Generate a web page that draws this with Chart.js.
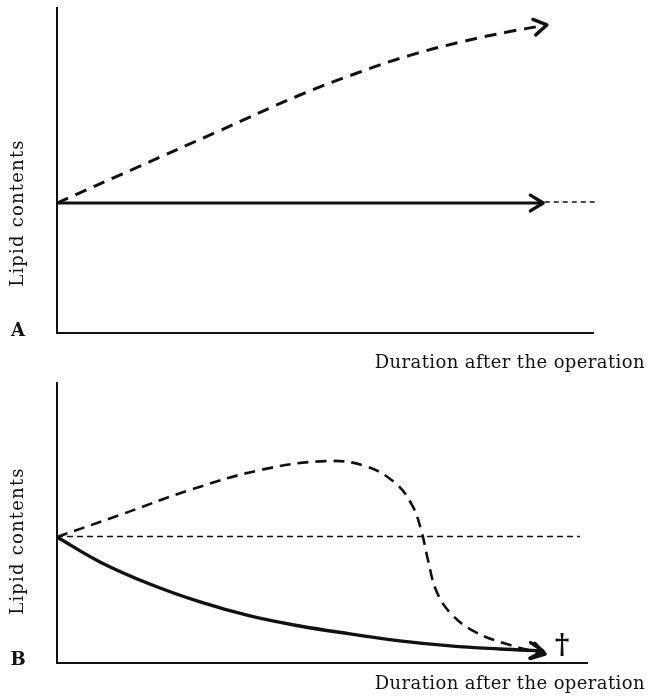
<!DOCTYPE html>
<html lang="en">
<head>
<meta charset="UTF-8" />
<title>Lipid contents after the operation</title>
<script src="https://cdn.jsdelivr.net/npm/chart.js"></script>
<style>
  html, body { margin: 0; padding: 0; background: #fff; }
  .panel { display: block; }
</style>
</head>
<body>
<canvas id="chartA" class="panel" width="651" height="375"></canvas>
<canvas id="chartB" class="panel" width="651" height="324"></canvas>

<script>
  // panel A: duration (x) and lipid level (y), arbitrary units 0-100
  const durA = [0, 15, 30, 45, 56, 66, 76, 84, 91.4];
  const dashedA = [40, 51, 62, 73, 80, 85.5, 89.8, 92.6, 94.8];
  const solidDurA = [0, 90.7];
  const solidA = [40, 40];
  const refDurA = [91, 100.7];
  const refA = [40.3, 40.3];

  // panel B
  const dashedDurB = [0, 11.9, 25.1, 38.3, 50.6, 58.1, 63.8, 67, 68.7, 70, 71.5, 74.2, 78.9, 85.5, 92.1];
  const dashedB = [45, 52.9, 61.8, 68.9, 72.1, 70.4, 64.3, 56.4, 47.5, 36.8, 26.1, 17.9, 11.1, 6.4, 3.2];
  const solidDurB = [0, 8.1, 17.5, 27, 36.4, 45.8, 55.3, 64.7, 74.2, 83.6, 91.7];
  const solidB = [45, 36.1, 28.2, 21.8, 16.8, 13.2, 10.4, 7.9, 6.1, 5.0, 4.3];
  const refDurB = [0, 98.7];
  const refB = [45.2, 45.2];

  const yTitle = 'Lipid contents';
  const xTitle = 'Duration after the operation';
  const INK = '#111';
  const SERIF = '"DejaVu Serif", "Liberation Serif", serif';

  function pts(xs, ys) {
    return xs.map((x, i) => ({ x: x, y: ys[i] }));
  }

  // arrow heads + the hand-set labels
  const sketchPlugin = {
    id: 'sketch',
    afterDatasetsDraw(chart, args, opts) {
      const ctx = chart.ctx;
      const area = chart.chartArea;

      chart.data.datasets.forEach((ds, i) => {
        if (!ds.arrow) return;
        const els = chart.getDatasetMeta(i).data;
        const p = els[els.length - 1];
        const q = els[els.length - 2];
        const a = Math.atan2(p.y - q.y, p.x - q.x);
        const len = 15;
        ctx.save();
        ctx.strokeStyle = INK;
        ctx.lineWidth = 3.4;
        ctx.lineCap = 'round';
        ctx.lineJoin = 'round';
        ctx.setLineDash([]);
        ctx.beginPath();
        ctx.moveTo(p.x - len * Math.cos(a - 0.55), p.y - len * Math.sin(a - 0.55));
        ctx.lineTo(p.x, p.y);
        ctx.lineTo(p.x - len * Math.cos(a + 0.55), p.y - len * Math.sin(a + 0.55));
        ctx.stroke();
        ctx.restore();
      });

      ctx.save();
      ctx.fillStyle = INK;

      // panel letter
      ctx.font = 'bold 18px ' + SERIF;
      ctx.textAlign = 'center';
      ctx.textBaseline = 'middle';
      ctx.fillText(opts.letter, 18, area.bottom + opts.letterDy);

      // y title, rotated
      const yc = chart.scales.y.getPixelForValue(opts.origin) + opts.yTitleDy;
      ctx.save();
      ctx.translate(18, yc);
      ctx.rotate(-Math.PI / 2);
      ctx.font = '18px ' + SERIF;
      ctx.letterSpacing = '1.2px';
      ctx.fillText(yTitle, 0, 0);
      ctx.restore();

      // x title
      ctx.font = '18px ' + SERIF;
      ctx.letterSpacing = '0.4px';
      ctx.textAlign = 'right';
      ctx.textBaseline = 'alphabetic';
      ctx.fillText(xTitle, 645, area.bottom + opts.xTitleDy);

      // dagger after the last solid point
      if (opts.dagger) {
        const els = chart.getDatasetMeta(opts.dagger).data;
        const p = els[els.length - 1];
        ctx.letterSpacing = '0px';
        ctx.font = 'bold 28px ' + SERIF;
        ctx.textAlign = 'center';
        ctx.textBaseline = 'middle';
        ctx.fillText('\u2020', p.x + 19, p.y - 4);
      }
      ctx.restore();
    }
  };

  function axes(xMax) {
    const common = {
      type: 'linear',
      display: true,
      grid: { display: false, drawTicks: false },
      ticks: { display: false },
      border: { display: true, color: INK, width: 2 }
    };
    return {
      x: { ...common, min: 0, max: xMax },
      y: { ...common, min: 0, max: 100 }
    };
  }

  const lineBase = {
    borderColor: INK,
    pointRadius: 0,
    fill: false,
    clip: false
  };

  new Chart(document.getElementById('chartA').getContext('2d'), {
    type: 'line',
    data: {
      datasets: [
        { ...lineBase, data: pts(durA, dashedA), borderWidth: 3, borderDash: [12, 8], tension: 0.4, arrow: true },
        { ...lineBase, data: pts(solidDurA, solidA), borderWidth: 3.2, arrow: true },
        { ...lineBase, data: pts(refDurA, refA), borderWidth: 1.5, borderDash: [5, 4] }
      ]
    },
    options: {
      responsive: false,
      animation: false,
      events: [],
      layout: { padding: { left: 57, right: 58, top: 8, bottom: 42 } },
      scales: axes(100),
      plugins: {
        legend: { display: false },
        tooltip: { enabled: false },
        sketch: { letter: 'A', letterDy: -2, origin: 40, yTitleDy: 10, xTitleDy: 35 }
      }
    },
    plugins: [sketchPlugin]
  });

  new Chart(document.getElementById('chartB').getContext('2d'), {
    type: 'line',
    data: {
      datasets: [
        { ...lineBase, data: pts(refDurB, refB), borderWidth: 1.5, borderDash: [6, 4] },
        { ...lineBase, data: pts(dashedDurB, dashedB), borderWidth: 2.6, borderDash: [11, 7], tension: 0.4, arrow: true },
        { ...lineBase, data: pts(solidDurB, solidB), borderWidth: 3.4, tension: 0.4, arrow: true }
      ]
    },
    options: {
      responsive: false,
      animation: false,
      events: [],
      layout: { padding: { left: 57, right: 64, top: 8, bottom: 36 } },
      scales: axes(100),
      plugins: {
        legend: { display: false },
        tooltip: { enabled: false },
        sketch: { letter: 'B', letterDy: -3, origin: 45, yTitleDy: 4, xTitleDy: 26, dagger: 2 }
      }
    },
    plugins: [sketchPlugin]
  });
</script>
</body>
</html>
